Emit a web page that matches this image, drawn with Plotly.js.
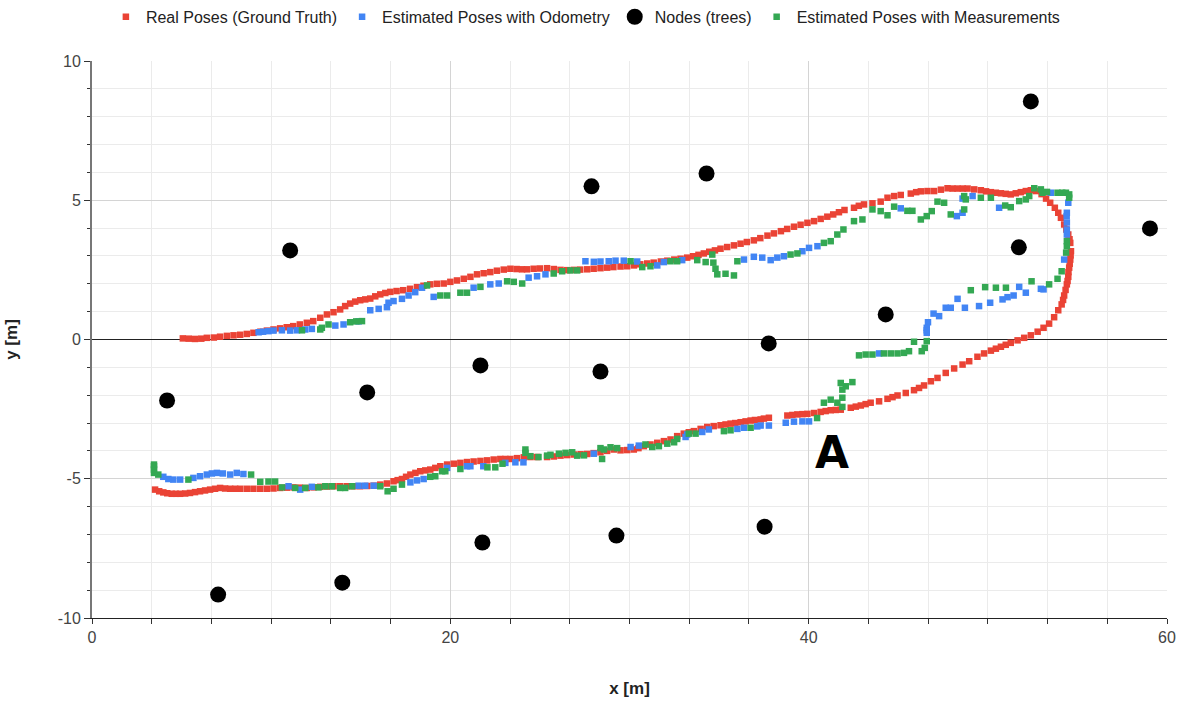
<!DOCTYPE html>
<html>
<head>
<meta charset="utf-8">
<script src="https://cdn.plot.ly/plotly-3.0.1.min.js"></script>
<style>html,body{margin:0;padding:0;background:#fff;}#chart{width:1185px;height:702px;}</style>
</head>
<body>
<div id="chart"></div>
<script>
// ---- Data (units: metres) ----
const seriesNames = ["Real Poses (Ground Truth)", "Estimated Poses with Odometry", "Nodes (trees)", "Estimated Poses with Measurements"];

const realPoses = [
[5.07,0.04],[5.4,0.03],[5.75,0.02],[6.1,0.03],[6.41,0.06],[6.8,0.07],[7.15,0.1],[7.53,0.13],[7.9,0.15],[8.27,0.17],[8.64,0.2],[9.01,0.24],[9.4,0.28],[9.76,0.32],[10.13,0.36],[10.5,0.4],[10.87,0.44],[11.23,0.48],[11.6,0.54],[11.99,0.6],[12.35,0.66],[12.74,0.78],[13.11,0.9],[13.48,0.98],[13.85,1.08],[14.13,1.2],[14.41,1.29],[14.69,1.36],[14.97,1.41],[15.25,1.44],[15.53,1.47],[15.81,1.55],[16.09,1.62],[16.37,1.67],[16.65,1.71],[17.0,1.74],[17.37,1.77],[17.75,1.82],[18.14,1.88],[18.5,1.93],[18.88,1.98],[19.25,2.0],[19.63,2.01],[20.0,2.07],[20.37,2.12],[20.75,2.18],[21.12,2.25],
[21.49,2.34],[21.86,2.38],[22.23,2.42],[22.6,2.47],[22.98,2.51],[23.35,2.54],[23.7,2.53],[24.0,2.52],[24.28,2.52],[24.65,2.54],[25.0,2.55],[25.4,2.56],[25.78,2.53],[26.15,2.5],[26.52,2.49],[26.9,2.5],[27.25,2.51],[27.64,2.52],[28.0,2.54],[28.38,2.56],[28.75,2.58],[29.1,2.6],[29.5,2.62],[29.87,2.63],[30.25,2.66],[30.6,2.7],[30.99,2.73],[31.35,2.76],[31.75,2.8],[32.11,2.83],[32.5,2.87],[32.85,2.9],[33.22,2.94],[33.55,2.99],[33.85,3.04],[34.15,3.09],[34.45,3.15],[34.77,3.2],[35.08,3.26],[35.45,3.32],[35.83,3.38],[36.2,3.44],[36.55,3.5],[36.94,3.56],[37.3,3.64],[37.7,3.73],[38.06,3.81],[38.45,3.89],[38.8,3.97],[39.18,4.05],[39.55,4.12],[39.93,4.19],[40.3,4.25],[40.67,4.33],[41.04,4.41],[41.37,4.49],[41.69,4.57],
[42.0,4.65],[42.53,4.73],[42.8,4.8],[43.09,4.85],[43.56,4.89],[44.02,4.95],[44.4,5.09],[44.77,5.15],[45.14,5.19],[45.7,5.24],[46.0,5.29],[46.26,5.32],[46.63,5.33],[47.0,5.33],[47.38,5.38],[47.75,5.43],[48.03,5.42],[48.31,5.42],[48.6,5.42],[48.87,5.42],[49.24,5.39],[49.61,5.36],[49.9,5.32],[50.17,5.29],[50.45,5.27],[50.73,5.25],[51.0,5.23],[51.28,5.21],[51.56,5.25],[51.84,5.29],[52.12,5.33],[52.4,5.36],[52.7,5.33],[53.0,5.22],[53.25,5.06],[53.48,4.91],[53.74,4.73],[53.93,4.55],[54.08,4.37],[54.26,4.13],[54.38,3.95],[54.49,3.77],[54.56,3.6],[54.6,3.47],[54.64,3.17],[54.62,3.02],[54.6,2.87],[54.57,2.72],[54.54,2.58],[54.5,2.42],[54.49,2.25],[54.45,2.1],[54.41,1.98],[54.34,1.78],[54.26,1.58],[54.2,1.42],[54.12,1.26],[53.93,1.05],[53.7,0.8],[53.42,0.57],[53.11,0.42],[52.78,0.28],[52.4,0.15],[52.03,0.06],[51.66,-0.03],[51.28,-0.12],[51.0,-0.19],[50.73,-0.26],[50.45,-0.33],[50.17,-0.4],[49.79,-0.5],[49.42,-0.62],[48.96,-0.78],[48.59,-0.9],[48.12,-1.04],[47.65,-1.2],[47.19,-1.38],[46.82,-1.5],[46.44,-1.65],[46.16,-1.74],[45.88,-1.82],[45.42,-1.92],[44.96,-2.01],[44.68,-2.07],[44.4,-2.13],[43.93,-2.22],[43.46,-2.27],[43.18,-2.32],[42.91,-2.37],[42.63,-2.41],[42.35,-2.45],[41.79,-2.52],[41.51,-2.53],[41.23,-2.54],[40.95,-2.57],[40.67,-2.6],[40.3,-2.64],[39.93,-2.67],[39.65,-2.68],[39.37,-2.69],[39.09,-2.71],[38.81,-2.73],[37.78,-2.81],[37.5,-2.84],[37.32,-2.87],[37.0,-2.89],[36.76,-2.91],[36.48,-2.94],[36.2,-2.97],[35.9,-3.0],[35.64,-3.02],[35.36,-3.05],[35.08,-3.08],[34.7,-3.11],[34.34,-3.14],[33.97,-3.21],[33.59,-3.29],[33.31,-3.33],[33.03,-3.38],[32.66,-3.47],[32.29,-3.59],[31.92,-3.65],[31.55,-3.71],[31.17,-3.77],[30.8,-3.83],[30.5,-3.9],[30.24,-3.95],[29.87,-3.97],[29.5,-3.98],[29.12,-3.95],[28.75,-4.0],[28.38,-4.05],[28.0,-4.08],[27.64,-4.11],[27.27,-4.12],[26.89,-4.13],[26.52,-4.15],[26.15,-4.17],[25.78,-4.2],[25.4,-4.22],[24.84,-4.22],[24.47,-4.22],[24.1,-4.23],[23.72,-4.26],[23.35,-4.29],[23.07,-4.29],[22.79,-4.29],[22.42,-4.31],[22.05,-4.34],[21.68,-4.36],[21.3,-4.38],[20.93,-4.4],[20.56,-4.43],[20.19,-4.46],[19.82,-4.49],[19.44,-4.55],[19.16,-4.61],[18.88,-4.67],[18.6,-4.7],[18.32,-4.73],[18.05,-4.79],[17.77,-4.85],[17.53,-4.93],[17.3,-5.01],[17.06,-5.05],[16.83,-5.09],[16.46,-5.17],[16.09,-5.21],[15.72,-5.25],[15.35,-5.26],[14.97,-5.27],[14.6,-5.27],[14.23,-5.27],[13.85,-5.27],[13.48,-5.27],[13.11,-5.28],[12.74,-5.29],[12.37,-5.31],[11.99,-5.33],[11.62,-5.32],[11.25,-5.31],[10.88,-5.32],[10.5,-5.33],[10.13,-5.35],[9.76,-5.36],[9.39,-5.36],[9.01,-5.36],[8.64,-5.36],[8.27,-5.36],[7.99,-5.36],[7.71,-5.36],[7.43,-5.35],[7.15,-5.33],[6.87,-5.36],[6.59,-5.39],[6.31,-5.42],[6.03,-5.45],[5.75,-5.48],[5.47,-5.51],[5.2,-5.53],[4.92,-5.54],[4.68,-5.54],[4.45,-5.54],[4.2,-5.52],[3.98,-5.49],[3.75,-5.45],[3.52,-5.39]
];

const odometryPoses = [
[9.3,0.26],[9.55,0.28],[9.85,0.3],[10.13,0.32],[10.6,0.33],[11.06,0.32],[11.44,0.33],[11.9,0.36],[12.27,0.38],[13.58,0.5],[14.04,0.54],[14.88,0.65],[15.53,1.05],[16.0,1.1],[16.46,1.16],[16.55,1.32],[16.83,1.38],[17.3,1.46],[17.67,1.58],[18.04,1.7],[18.42,1.86],[19.07,1.53],[21.3,1.86],[22.23,1.98],[22.7,2.01],[24.37,2.22],[24.84,2.27],[25.31,2.34],[27.54,2.81],[28.01,2.79],[28.38,2.8],[28.84,2.81],[29.22,2.83],[29.68,2.83],[30.43,2.8],[31.55,2.66],[31.92,2.78],[32.94,2.85],[36.39,2.87],[36.94,2.97],[37.41,2.94],[37.88,2.85],[38.25,2.94],[38.62,2.99],[39.65,3.17],[40.02,3.29],[40.49,3.35],[45.14,4.71],[48.27,4.43],[48.59,4.55],[48.59,5.06],[49.15,5.15],[50.63,4.73],[53.52,5.27],[54.49,4.91],[54.41,4.55],[54.4,4.43],[54.41,4.2],[54.41,3.95],[54.41,3.77],[54.26,2.87],[53.11,1.8],[52.96,1.82],[52.12,1.68],[51.75,1.89],[51.44,1.58],[51.1,1.52],[50.82,1.44],[50.13,1.32],[49.51,1.2],[48.72,1.14],[48.31,1.46],[47.93,1.14],[47.65,1.14],[47.28,0.84],[46.97,0.93],[46.66,0.62],[46.59,0.42],[46.59,0.33],[46.59,0.24],[43.93,-0.5],
[40.02,-2.94],[39.65,-2.94],[39.18,-2.95],[38.72,-2.99],[37.78,-3.09],[37.32,-3.09],[37.13,-3.12],[36.39,-3.17],[36.02,-3.21],[34.43,-3.23],[34.06,-3.32],[33.22,-3.41],[33.13,-3.5],[30.52,-3.81],[30.06,-3.86],[28.01,-4.1],[24.08,-4.41],[23.63,-4.41],[23.07,-4.43],[21.84,-4.55],[21.12,-4.55],[20.93,-4.55],[19.82,-4.61],[18.51,-5.01],[18.14,-5.06],[17.77,-5.13],[15.72,-5.25],[15.25,-5.25],[14.88,-5.25],[12.27,-5.29],[11.62,-5.39],[10.97,-5.27],[8.45,-4.83],[8.08,-4.79],[7.71,-4.85],[7.3,-4.81],[6.97,-4.79],[6.69,-4.81],[6.41,-4.85],[6.03,-4.91],[5.66,-4.97],[4.92,-5.03],[4.54,-5.03],[4.26,-5.01],[3.98,-4.93]
];

const treeNodes = [
[4.19,-2.19],[7.04,-9.16],[11.06,3.2],[13.97,-8.73],[15.36,-1.9],[21.68,-0.93],[21.79,-7.29],[27.88,5.5],[28.38,-1.15],[29.27,-7.04],[34.3,5.96],[37.77,-0.14],[37.54,-6.72],[44.3,0.9],[51.73,3.31],[52.4,8.55],[59.05,3.99]
];

const measurementPoses = [
[11.72,0.33],[12.74,0.36],[12.83,0.42],[13.2,0.54],[14.41,0.62],[14.75,0.65],[15.07,0.66],[18.7,1.94],[19.44,1.58],[19.82,1.58],[20.56,1.68],[20.93,1.68],[21.68,1.89],[23.17,2.09],[23.54,2.07],[24.01,2.01],[25.77,2.37],[26.24,2.45],[26.7,2.48],[27.08,2.48],[30.06,2.81],[30.71,2.6],[31.17,2.63],[32.29,2.81],[32.66,2.81],[33.78,2.85],[34.25,2.78],[34.62,3.05],[34.68,2.76],[34.8,2.54],[34.9,2.34],[35.36,2.36],[35.83,2.3],[36.02,2.81],[38.99,3.05],[39.37,3.09],[40.85,3.47],[41.23,3.53],[41.6,3.77],[41.94,3.95],[42.53,4.25],[43.0,4.31],[43.56,4.67],[44.02,4.61],[44.4,4.46],[44.77,4.77],[45.51,4.62],[45.79,4.62],[46.26,4.31],[46.59,4.43],[46.87,4.61],[47.19,4.95],[47.56,4.91],[47.93,4.49],[48.68,4.67],[48.68,5.15],[48.77,5.03],[49.61,5.09],[50.17,5.09],[50.97,4.81],[51.28,4.75],[51.75,4.97],[52.12,5.03],[52.31,5.15],[52.59,5.43],[52.96,5.39],[53.05,5.27],[53.3,5.3],[53.89,5.27],[54.15,5.27],[54.36,5.27],[54.54,5.21],[54.54,5.09],[54.41,3.53],[54.41,3.35],[54.37,3.12],[54.12,2.45],[53.89,2.18],[53.42,1.98],[52.44,2.09],[51.01,1.86],[50.45,1.86],[49.85,1.88],[49.05,1.77],[46.59,-0.06],[46.48,-0.3],[46.31,-0.42],[45.88,-0.08],[45.6,-0.42],[45.32,-0.48],[44.96,-0.5],[44.58,-0.5],[44.2,-0.5],[43.56,-0.54],[43.18,-0.54],[42.81,-0.57],
[41.79,-1.56],[42.07,-1.68],[42.44,-1.53],[41.88,-1.8],[41.88,-2.09],[41.23,-2.16],[40.85,-2.27],[41.6,-2.27],[41.88,-2.42],[40.47,-2.82],
[36.76,-3.17],[35.64,-3.26],[35.27,-3.29],[33.69,-3.38],[33.31,-3.38],[32.66,-3.57],[32.49,-3.69],[32.11,-3.74],[31.64,-3.83],[31.27,-3.86],[30.89,-3.77],[29.31,-3.9],[28.94,-3.87],[28.57,-3.95],[28.47,-4.29],[28.38,-3.9],[27.46,-4.16],[27.08,-4.17],[26.8,-4.05],[26.43,-4.07],[26.06,-4.1],[25.59,-4.14],[25.4,-4.17],[24.92,-4.22],[24.47,-4.19],[24.19,-3.95],[24.19,-4.07],[22.91,-4.46],[22.51,-4.59],[22.07,-4.59],[20.56,-4.65],[19.72,-4.73],[19.54,-4.73],[19.16,-4.91],[18.88,-4.93],[17.3,-5.21],[16.83,-5.36],[16.5,-5.45],[16.09,-5.27],[14.51,-5.27],[14.13,-5.33],[13.85,-5.33],[13.39,-5.27],[13.02,-5.27],[12.64,-5.31],[11.9,-5.33],[11.34,-5.33],[10.6,-5.31],[10.22,-5.1],[9.85,-5.1],[9.39,-5.11],[8.88,-4.85],[5.38,-5.03],[3.7,-4.85],[3.46,-4.79],[3.46,-4.67],[3.46,-4.55],[3.46,-4.49]
];

const xTickVals = [0, 20, 40, 60];
const yTickVals = [-10, -5, 0, 5, 10];
const annotationLabel = "A";
const annotationPos = [41.3, -4.05];

// ---- Drawing ----
const colors = ["#EA4335", "#4285F4", "#000000", "#34A853"];
const xs = a => a.map(p => p[0]);
const ys = a => a.map(p => p[1]);
const sets = [realPoses, odometryPoses, treeNodes, measurementPoses];
const traces = sets.map((s, i) => ({
  type: "scatter",
  mode: "markers",
  name: seriesNames[i],
  x: xs(s),
  y: ys(s),
  marker: i === 2
    ? {symbol: "circle", size: 16, color: colors[i]}
    : {symbol: "square", size: 6.5, color: colors[i]},
  hoverinfo: "x+y"
}));

const font = "Liberation Sans, Arial, sans-serif";
const layout = {
  width: 1185, height: 702,
  margin: {l: 92, r: 18, t: 61, b: 84},
  paper_bgcolor: "#fff", plot_bgcolor: "#fff",
  font: {family: font, size: 13, color: "#444"},
  showlegend: true,
  legend: {
    orientation: "h", xref: "container", yref: "container",
    x: 0.494, xanchor: "center", y: 0.976, yanchor: "middle",
    font: {family: font, size: 16, color: "#222"},
    itemwidth: 30, tracegroupgap: 0
  },
  xaxis: {
    range: [0, 60], tickvals: xTickVals, ticktext: xTickVals.map(String),
    showgrid: true, gridcolor: "#d4d4d4", gridwidth: 1,
    zeroline: false, showline: true, linecolor: "#222", linewidth: 1,
    ticks: "outside", ticklen: 5, tickcolor: "#333",
    tickfont: {family: font, size: 16, color: "#444"},
    minor: {dtick: 10/3, tick0: 0, showgrid: true, gridcolor: "#ebebeb", ticks: "outside", ticklen: 5, tickcolor: "#333"},
    title: {text: "<b>x [m]</b>", font: {family: font, size: 17, color: "#222"}, standoff: 36}
  },
  yaxis: {
    range: [-10, 10], tickvals: yTickVals, ticktext: yTickVals.map(String),
    showgrid: true, gridcolor: "#d4d4d4", gridwidth: 1,
    zeroline: true, zerolinecolor: "#222", zerolinewidth: 1,
    showline: true, linecolor: "#777", linewidth: 2,
    ticks: "outside", ticklen: 6, tickcolor: "#333",
    tickfont: {family: font, size: 16, color: "#444"},
    minor: {dtick: 1, showgrid: true, gridcolor: "#ebebeb", ticks: "outside", ticklen: 3, tickcolor: "#333"},
    title: {text: "<b>y [m]</b>", font: {family: font, size: 17, color: "#222"}, standoff: 36}
  },
  annotations: [{
    x: annotationPos[0], y: annotationPos[1], xref: "x", yref: "y",
    text: "<b>" + annotationLabel + "</b>", showarrow: false,
    font: {family: "DejaVu Sans, sans-serif", size: 44, color: "#000"}
  }]
};

Plotly.newPlot("chart", traces, layout, {displayModeBar: false, staticPlot: true});
</script>
</body>
</html>
